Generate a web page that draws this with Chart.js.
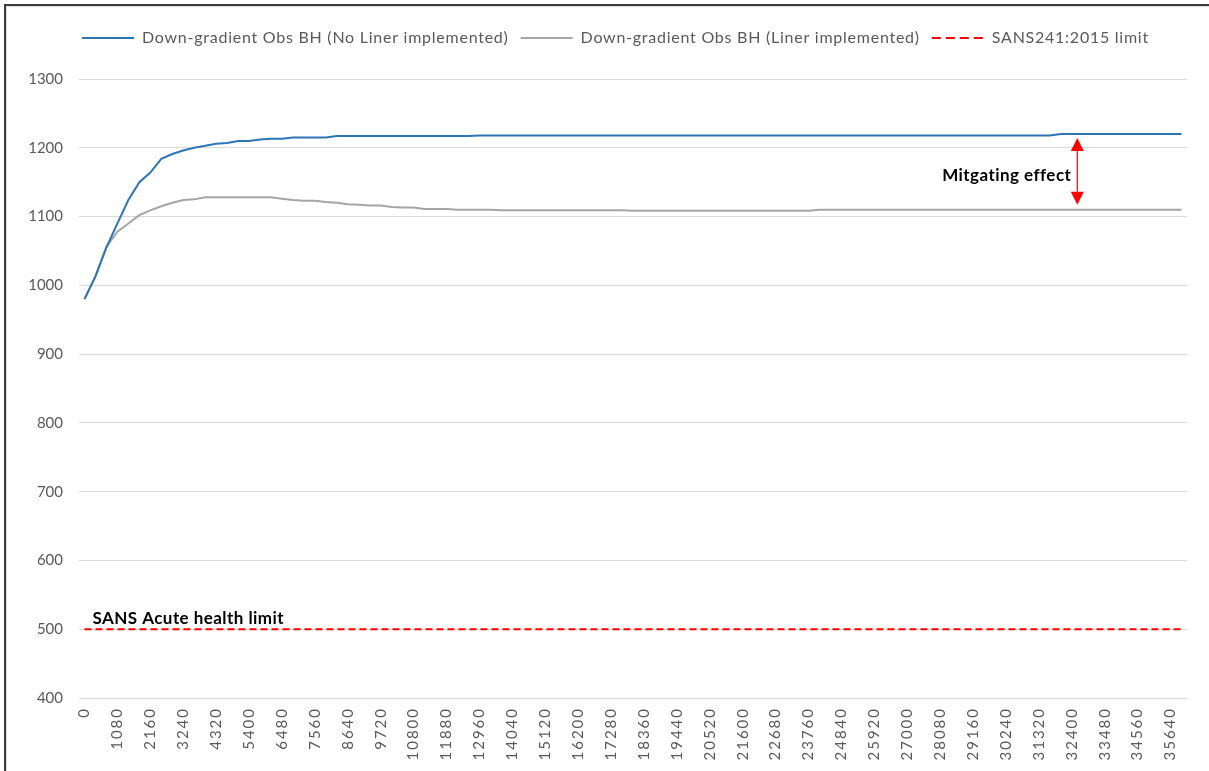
<!DOCTYPE html>
<html>
<head>
<meta charset="utf-8">
<title>Down-gradient Obs BH</title>
<script src="https://cdn.jsdelivr.net/npm/chart.js@4.4.0/dist/chart.umd.min.js"></script>
<style>
  html, body { margin: 0; padding: 0; background: #fff; }
  #wrap { position: relative; width: 1209px; height: 771px; overflow: hidden; }
  #frame {
    position: absolute; left: 4px; top: 4px; width: 1400px; height: 900px;
    border-top: 2px solid #3b3b3b; border-left: 2px solid #3b3b3b;
    box-shadow: inset 1px 1px 0 #dcdcdc; pointer-events: none;
  }
</style>
</head>
<body>
<div id="wrap">
  <canvas id="chart" width="1209" height="771"></canvas>
  <div id="frame"></div>
</div>
<script>
// time steps, every 360 (only every third one is labelled)
const steps = Array.from({ length: 101 }, (_, i) => String(i * 360));

const noLiner = [
  980, 1013, 1055, 1090, 1124, 1150, 1164, 1184, 1191, 1196,
  1200, 1203, 1206, 1207, 1210, 1210, 1212, 1213, 1213, 1215,
  1215, 1215, 1215, 1217, 1217, 1217, 1217, 1217, 1217, 1217,
  1217, 1217, 1217, 1217, 1217, 1217, 1218, 1218, 1218, 1218,
  1218, 1218, 1218, 1218, 1218, 1218, 1218, 1218, 1218, 1218,
  1218, 1218, 1218, 1218, 1218, 1218, 1218, 1218, 1218, 1218,
  1218, 1218, 1218, 1218, 1218, 1218, 1218, 1218, 1218, 1218,
  1218, 1218, 1218, 1218, 1218, 1218, 1218, 1218, 1218, 1218,
  1218, 1218, 1218, 1218, 1218, 1218, 1218, 1218, 1218, 1220,
  1220, 1220, 1220, 1220, 1220, 1220, 1220, 1220, 1220, 1220,
  1220
];

const withLiner = [
  980, 1013, 1056, 1078, 1090, 1102, 1109, 1115, 1120, 1124,
  1125, 1128, 1128, 1128, 1128, 1128, 1128, 1128, 1126, 1124,
  1123, 1123, 1121, 1120, 1118, 1117, 1116, 1116, 1114, 1113,
  1113, 1111, 1111, 1111, 1110, 1110, 1110, 1110, 1109, 1109,
  1109, 1109, 1109, 1109, 1109, 1109, 1109, 1109, 1109, 1109,
  1108.5, 1108.5, 1108.5, 1108.5, 1108.5, 1108.5, 1108.5, 1108.5, 1108.5, 1108.5,
  1108.5, 1108.5, 1108.5, 1108.5, 1108.5, 1108.5, 1108.5, 1110, 1110, 1110,
  1110, 1110, 1110, 1110, 1110, 1110, 1110, 1110, 1110, 1110,
  1110, 1110, 1110, 1110, 1110, 1110, 1110, 1110, 1110, 1110,
  1110, 1110, 1110, 1110, 1110, 1110, 1110, 1110, 1110, 1110,
  1110
];

const LIMIT = 500;
const limitLine = steps.map(() => LIMIT);

const ARROW_IDX = 90;

const FONT = 'Lato';
const GREY_TEXT = '#595959';

// run a draw/measure call with some letter spacing on the context
function spaced(ctx, px, fn) {
  ctx.save();
  ctx.letterSpacing = px + 'px';
  fn();
  ctx.restore();
}

// text + arrow drawn on top of the series
const notes = {
  id: 'notes',
  afterDatasetsDraw(chart) {
    const { ctx, scales: { x, y } } = chart;
    ctx.save();
    ctx.letterSpacing = '0.45px';
    ctx.fillStyle = '#000';
    ctx.font = 'bold 17px ' + FONT;
    ctx.textAlign = 'left';
    ctx.textBaseline = 'alphabetic';
    ctx.fillText('SANS Acute health limit', x.getPixelForValue(0) + 8, y.getPixelForValue(LIMIT) - 5);

    const ax = x.getPixelForValue(ARROW_IDX + 0.5);
    const top = y.getPixelForValue(noLiner[ARROW_IDX]) + 4;
    const bot = y.getPixelForValue(withLiner[ARROW_IDX]) - 5;
    const head = 13, half = 6.5;
    ctx.strokeStyle = '#ff0000';
    ctx.lineWidth = 1.2;
    ctx.beginPath();
    ctx.moveTo(ax, top + head);
    ctx.lineTo(ax, bot - head);
    ctx.stroke();
    ctx.fillStyle = '#ff0000';
    ctx.beginPath();
    ctx.moveTo(ax, top);
    ctx.lineTo(ax - half, top + head);
    ctx.lineTo(ax + half, top + head);
    ctx.closePath();
    ctx.fill();
    ctx.beginPath();
    ctx.moveTo(ax, bot);
    ctx.lineTo(ax - half, bot - head);
    ctx.lineTo(ax + half, bot - head);
    ctx.closePath();
    ctx.fill();

    ctx.fillStyle = '#000';
    ctx.textAlign = 'right';
    ctx.textBaseline = 'middle';
    ctx.fillText('Mitgating effect', ax - 6, (top + bot) / 2 + 4);
    ctx.restore();
  }
};

// legend: wider lettering, extra room below it, row starting over the plot
const legendSpace = {
  id: 'legendSpace',
  beforeInit(chart) {
    const lg = chart.legend;
    const fit = lg.fit, draw = lg.draw;
    lg.fit = function () {
      spaced(this.ctx, 0.75, () => fit.call(this));
      this.height += 23;
    };
    lg.draw = function () {
      spaced(this.ctx, 0.75, () => draw.call(this));
    };
  },
  afterLayout(chart) {
    const lg = chart.legend;
    const pad = lg.options.labels.padding;
    const start = (lg.left + pad + lg.right - lg.lineWidths[0]) / 2;
    const d = 82 - start;
    lg.left += d;
    lg.right += d;

    const xs = chart.scales.x;
    if (!xs._spaced) {
      const drawLabels = xs.drawLabels;
      xs.drawLabels = function (area) {
        spaced(this.ctx, 2, () => drawLabels.call(this, area));
      };
      xs._spaced = true;
    }
  }
};

new Chart(document.getElementById('chart'), {
  type: 'line',
  data: {
    labels: steps,
    datasets: [
      {
        label: 'Down-gradient Obs BH (No Liner implemented)',
        data: noLiner,
        borderColor: '#2e75b6',
        borderWidth: 2,
        pointRadius: 0,
        tension: 0
      },
      {
        label: 'Down-gradient Obs BH (Liner implemented)',
        data: withLiner,
        borderColor: '#a5a5a5',
        borderWidth: 2,
        pointRadius: 0,
        tension: 0
      },
      {
        label: 'SANS241:2015 limit',
        data: limitLine,
        borderColor: '#ff0000',
        borderWidth: 2,
        borderDash: [7, 4],
        pointRadius: 0,
        tension: 0
      }
    ]
  },
  options: {
    responsive: false,
    animation: false,
    devicePixelRatio: 1,
    layout: { padding: { top: 18, right: 22, left: 0, bottom: 0 } },
    plugins: {
      tooltip: { enabled: false },
      legend: {
        position: 'top',
        labels: {
          usePointStyle: true,
          pointStyle: 'line',
          pointStyleWidth: 52,
          boxWidth: 52,
          padding: 12,
          color: GREY_TEXT,
          font: { family: FONT, size: 16 },
          generateLabels(chart) {
            const items = Chart.defaults.plugins.legend.labels.generateLabels(chart);
            items.forEach(it => {
              const ds = chart.data.datasets[it.datasetIndex];
              it.strokeStyle = ds.borderColor;
              it.lineWidth = 2;
              it.lineDash = ds.borderDash ? [9, 5] : [];
            });
            return items;
          }
        }
      }
    },
    scales: {
      x: {
        offset: true,
        grid: { display: false, drawTicks: false },
        border: { display: false },
        ticks: {
          autoSkip: false,
          minRotation: 90,
          maxRotation: 90,
          padding: 9,
          color: GREY_TEXT,
          font: { family: FONT, size: 15 },
          callback: function (val, i) {
            return i % 3 === 0 ? this.getLabelForValue(val) : '';
          }
        },
        afterFit: s => { s.height = 73; }
      },
      y: {
        min: 400,
        max: 1300,
        grid: { color: '#d9d9d9', lineWidth: 1, drawTicks: false },
        border: { display: false },
        ticks: {
          stepSize: 100,
          padding: 16,
          color: GREY_TEXT,
          font: { family: FONT, size: 15 },
          callback: v => String(v)
        },
        afterFit: s => { s.width = 79; }
      }
    }
  },
  plugins: [legendSpace, notes]
});
</script>
</body>
</html>
